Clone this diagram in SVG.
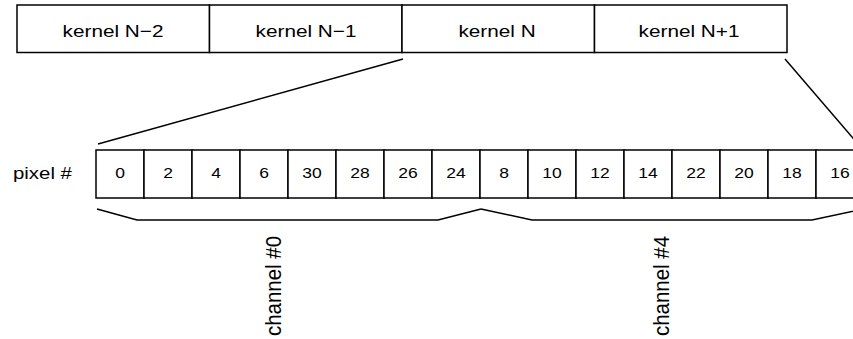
<svg xmlns="http://www.w3.org/2000/svg" width="853" height="339" viewBox="0 0 853 339">
<style>
.box{fill:#fff;stroke:#000;stroke-width:1.5}
.ln{fill:none;stroke:#000;stroke-width:1.5;stroke-linejoin:miter}
.k{font-family:"Liberation Sans",Arial,sans-serif;font-size:17px;text-anchor:middle;fill:#000}
.d{font-family:"Liberation Sans",Arial,sans-serif;font-size:14px;text-anchor:middle;fill:#000}
.l{font-family:"Liberation Sans",Arial,sans-serif;font-size:17px;fill:#000}
.c{font-family:"Liberation Sans",Arial,sans-serif;font-size:20.5px;text-anchor:middle;fill:#000}
</style>
<rect width="853" height="339" fill="#fff"/>
<g id="kernels">
<g id="kernel-n-2"><rect class="box" x="17" y="5" width="192.5" height="47.5"/><text class="k" transform="translate(113,37) scale(1.22,1)">kernel N−2</text></g>
<g id="kernel-n-1"><rect class="box" x="209.5" y="5" width="192.5" height="47.5"/><text class="k" transform="translate(306,37) scale(1.22,1)">kernel N−1</text></g>
<g id="kernel-n"><rect class="box" x="402" y="5" width="192.5" height="47.5"/><text class="k" transform="translate(497,37) scale(1.22,1)">kernel N</text></g>
<g id="kernel-n+1"><rect class="box" x="594.5" y="5" width="192.5" height="47.5"/><text class="k" transform="translate(689,37) scale(1.22,1)">kernel N+1</text></g>
</g>
<g id="pixel-label"><text class="l" transform="translate(13,179) scale(1.2,1)">pixel #</text></g>
<g id="pixels">
<g id="px0"><rect class="box" x="96" y="150" width="48" height="48"/><text class="d" transform="translate(120,178) scale(1.25,1)">0</text></g>
<g id="px2"><rect class="box" x="144" y="150" width="48" height="48"/><text class="d" transform="translate(168,178) scale(1.25,1)">2</text></g>
<g id="px4"><rect class="box" x="192" y="150" width="48" height="48"/><text class="d" transform="translate(216,178) scale(1.25,1)">4</text></g>
<g id="px6"><rect class="box" x="240" y="150" width="48" height="48"/><text class="d" transform="translate(264,178) scale(1.25,1)">6</text></g>
<g id="px30"><rect class="box" x="288" y="150" width="48" height="48"/><text class="d" transform="translate(312,178) scale(1.25,1)">30</text></g>
<g id="px28"><rect class="box" x="336" y="150" width="48" height="48"/><text class="d" transform="translate(360,178) scale(1.25,1)">28</text></g>
<g id="px26"><rect class="box" x="384" y="150" width="48" height="48"/><text class="d" transform="translate(408,178) scale(1.25,1)">26</text></g>
<g id="px24"><rect class="box" x="432" y="150" width="48" height="48"/><text class="d" transform="translate(456,178) scale(1.25,1)">24</text></g>
<g id="px8"><rect class="box" x="480" y="150" width="48" height="48"/><text class="d" transform="translate(504,178) scale(1.25,1)">8</text></g>
<g id="px10"><rect class="box" x="528" y="150" width="48" height="48"/><text class="d" transform="translate(552,178) scale(1.25,1)">10</text></g>
<g id="px12"><rect class="box" x="576" y="150" width="48" height="48"/><text class="d" transform="translate(600,178) scale(1.25,1)">12</text></g>
<g id="px14"><rect class="box" x="624" y="150" width="48" height="48"/><text class="d" transform="translate(648,178) scale(1.25,1)">14</text></g>
<g id="px22"><rect class="box" x="672" y="150" width="48" height="48"/><text class="d" transform="translate(696,178) scale(1.25,1)">22</text></g>
<g id="px20"><rect class="box" x="720" y="150" width="48" height="48"/><text class="d" transform="translate(744,178) scale(1.25,1)">20</text></g>
<g id="px18"><rect class="box" x="768" y="150" width="48" height="48"/><text class="d" transform="translate(792,178) scale(1.25,1)">18</text></g>
<g id="px16"><rect class="box" x="816" y="150" width="48" height="48"/><text class="d" transform="translate(840,178) scale(1.25,1)">16</text></g>
</g>
<g id="connectors">
<line class="ln" x1="98" y1="144" x2="403" y2="59"/>
<line class="ln" x1="785" y1="59" x2="858" y2="144"/>
<polyline class="ln" points="97,209 137,220 438,220 481,209"/>
<polyline class="ln" points="481,209 532,220 812,220 864,209"/>
</g>
<g id="channel-0"><text class="c" transform="translate(281,286) rotate(-90) scale(1,1.1)">channel #0</text></g>
<g id="channel-4"><text class="c" transform="translate(669,286) rotate(-90) scale(1,1.1)">channel #4</text></g>
</svg>
